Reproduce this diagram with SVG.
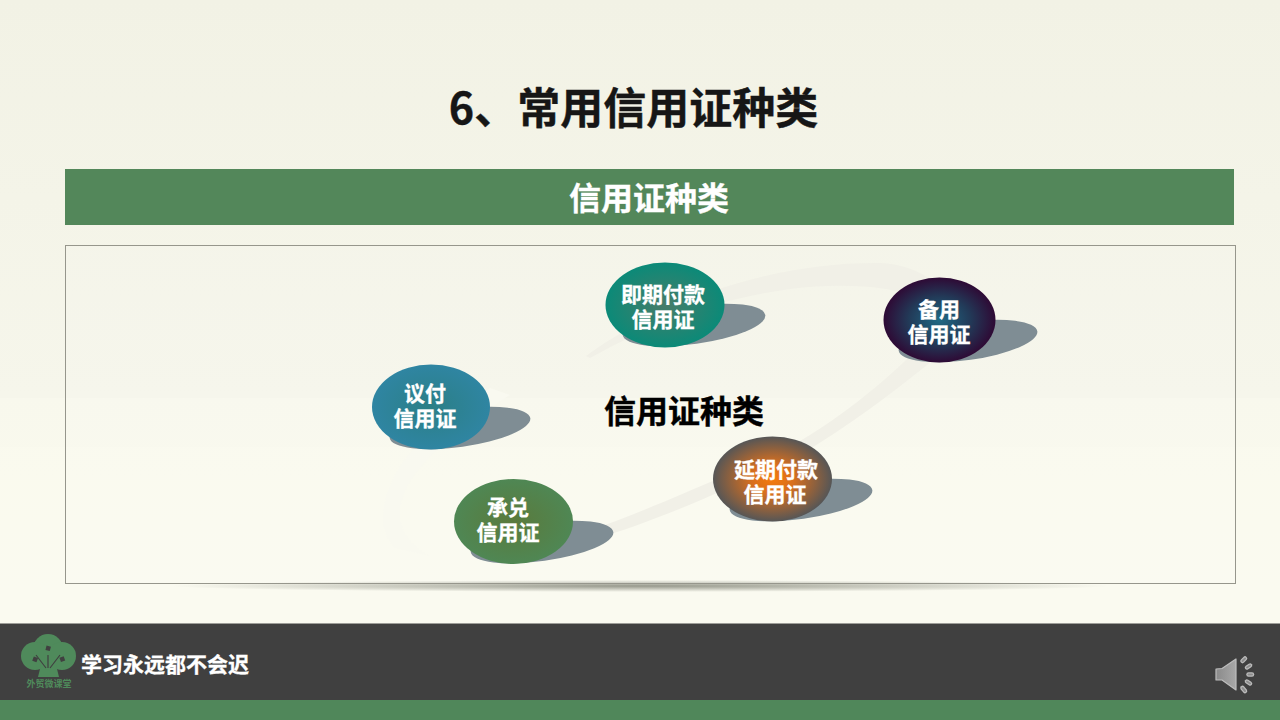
<svg xmlns="http://www.w3.org/2000/svg" width="1280" height="720" viewBox="0 0 1280 720">
<style>
text{font-family:"Noto Sans CJK SC","Liberation Sans",sans-serif;font-weight:700;text-anchor:middle}
.n{font-size:21px;fill:#fff;stroke:#fff;stroke-width:.3}
.sh{fill:#7f8d94}
.ring{fill:#f1f0e7}
</style>
<defs>
<linearGradient id="bg" x1="0" y1="0" x2="0" y2="1"><stop offset="0" stop-color="#f2f2e5"/><stop offset=".55" stop-color="#f6f6eb"/><stop offset="1" stop-color="#fafaf0"/></linearGradient>
<radialGradient id="g1"><stop offset="0" stop-color="#477c69"/><stop offset="1" stop-color="#0b8a78"/></radialGradient>
<radialGradient id="g2"><stop offset="0" stop-color="#2b7f86"/><stop offset="1" stop-color="#2f85a2"/></radialGradient>
<radialGradient id="g3"><stop offset="0" stop-color="#5a7a3c"/><stop offset="1" stop-color="#4f8754"/></radialGradient>
<radialGradient id="g4"><stop offset="0" stop-color="#f57a0c"/><stop offset=".35" stop-color="#d86f1e"/><stop offset="1" stop-color="#565656"/></radialGradient>
<radialGradient id="g5"><stop offset="0" stop-color="#1f6a85"/><stop offset=".55" stop-color="#223a58"/><stop offset="1" stop-color="#2e0a35"/></radialGradient>
<radialGradient id="fl"><stop offset="0" stop-color="#55584a" stop-opacity=".6"/><stop offset="1" stop-color="#55584a" stop-opacity="0"/></radialGradient>
<linearGradient id="sp" x1="0" y1="0" x2="1" y2="0"><stop offset="0" stop-color="#8a8a8a"/><stop offset="1" stop-color="#a8a8a8"/></linearGradient>
</defs>
<rect width="1280" height="720" fill="url(#bg)"/>
<rect y="398" width="1280" height="226" fill="#fbfbf1" opacity=".35"/>
<rect y="447" width="1280" height="177" fill="#fbfbf1" opacity=".3"/>
<text x="633.500" y="124" font-size="43" fill="#161616" stroke="#161616" stroke-width=".4">6、常用信用证种类</text>
<g id="banner"><rect x="65" y="169" width="1169" height="56" fill="#53875a"/><text x="649" y="210" font-size="32" fill="#fff" stroke="#fff" stroke-width=".3">信用证种类</text></g>
<ellipse cx="640" cy="586" rx="470" ry="6" fill="url(#fl)"/>
<rect id="frame" x="65.500" y="245.500" width="1170" height="338" fill="#fff" fill-opacity=".08" stroke="#96968c"/>
<g id="connectors">
<path class="ring" d="M586 356C670 295 780 262 880 263C920 265 945 285 950 310L925 300C890 285 840 283 790 289C710 300 650 325 590 358Z"/>
<path class="ring" d="M932 361C890 395 850 425 800 455L730 487C680 510 640 525 590 541L585 532C630 517 680 495 722 477L795 444C840 418 880 385 908 358Z"/>
<path d="M490 388C450 415 410 445 395 475C380 505 378 530 395 548L430 556C400 540 392 515 408 485C425 455 470 420 510 395Z" fill="#f9f9f0"/>
</g>
<g id="node-jiqi"><ellipse class="sh" cx="694" cy="325" rx="72" ry="19" transform="rotate(-8 694 325)"/><ellipse cx="665" cy="305" rx="59.500" ry="42.500" fill="url(#g1)"/><text class="n"><tspan x="663" y="302">即期付款</tspan><tspan x="663" y="327">信用证</tspan></text></g>
<g id="node-beiyong"><ellipse class="sh" cx="968" cy="341" rx="70" ry="19" transform="rotate(-8 968 341)"/><ellipse cx="939.500" cy="320" rx="56" ry="42.500" fill="url(#g5)"/><text class="n"><tspan x="939" y="317">备用</tspan><tspan x="939" y="342">信用证</tspan></text></g>
<g id="node-yifu"><ellipse class="sh" cx="460" cy="428" rx="71" ry="19" transform="rotate(-8 460 428)"/><ellipse cx="431" cy="407" rx="59" ry="42.500" fill="url(#g2)"/><text class="n"><tspan x="425" y="401">议付</tspan><tspan x="425" y="426">信用证</tspan></text></g>
<g id="node-chengdui"><ellipse class="sh" cx="542" cy="542" rx="72" ry="19" transform="rotate(-8 542 542)"/><ellipse cx="513.500" cy="521.500" rx="59.500" ry="42.500" fill="url(#g3)"/><text class="n"><tspan x="508" y="515">承兑</tspan><tspan x="508" y="540">信用证</tspan></text></g>
<g id="node-yanqi"><ellipse class="sh" cx="801" cy="500" rx="72" ry="19" transform="rotate(-8 801 500)"/><ellipse cx="772.500" cy="479" rx="59.500" ry="42.500" fill="url(#g4)"/><text class="n"><tspan x="776" y="477">延期付款</tspan><tspan x="775" y="502">信用证</tspan></text></g>
<text x="684" y="423" font-size="32" fill="#000" stroke="#000" stroke-width=".4">信用证种类</text>
<g id="footer">
<rect y="623.500" width="1280" height="76.500" fill="#404040"/><rect y="700" width="1280" height="20" fill="#50875a"/>
<g id="logo" fill="#4f8a5b">
<circle cx="48" cy="649" r="15"/><circle cx="35" cy="656" r="14"/><circle cx="62" cy="656" r="14"/><rect x="36" y="648" width="25" height="20"/>
<path d="M41 665L56 665L59 677L38 677Z"/>
<path d="M36 655L46 668M60 655L50 668M48 655L48 668" fill="none" stroke="#404040" stroke-width="1.200"/>
<g fill="#404040"><rect x="46" y="646" width="4.500" height="4.500" transform="rotate(15 48 648)"/><rect x="33" y="657" width="4.500" height="4.500" transform="rotate(20 35 659)"/><rect x="60" y="657" width="4.500" height="4.500" transform="rotate(-20 62 659)"/></g>
<text x="49" y="687" font-size="9" fill="#4f8a5b">外贸微课堂</text>
</g>
<text x="165" y="672" font-size="21" fill="#fff" stroke="#fff" stroke-width=".3">学习永远都不会迟</text>
<g id="speaker">
<path d="M1216 669L1222 668.500L1236 659L1236 690L1222 680L1216 680Z" fill="url(#sp)" stroke="#bdbdbd" stroke-width="1.200" stroke-linejoin="round"/>
<g stroke="#bcbcbc" stroke-width="4.500" stroke-linecap="round" fill="none"><path d="M1242.500 661L1245 658.500"/><path d="M1247 667.500L1250 665.500"/><path d="M1248.500 674.500L1252 674.500"/><path d="M1247 681.500L1250 683.500"/><path d="M1242.500 688L1245 691"/></g>
<g stroke="#8c8c8c" stroke-width="2" stroke-linecap="round" fill="none"><path d="M1242.500 661L1245 658.500"/><path d="M1247 667.500L1250 665.500"/><path d="M1248.500 674.500L1252 674.500"/><path d="M1247 681.500L1250 683.500"/><path d="M1242.500 688L1245 691"/></g>
</g>
</g>
</svg>
